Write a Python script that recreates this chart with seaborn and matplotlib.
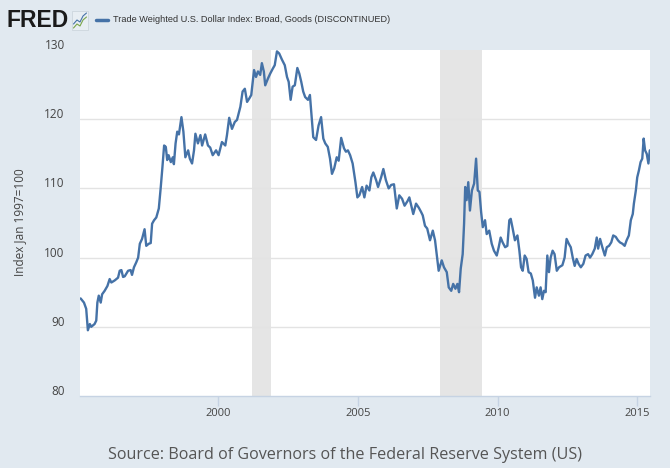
import numpy as np
import pandas as pd
import matplotlib
matplotlib.use("Agg")
import matplotlib.pyplot as plt
import seaborn as sns
from matplotlib.transforms import ScaledTranslation
from matplotlib.patches import Rectangle
from matplotlib.lines import Line2D

# ---- data (decimal years, index values) ----
dates = [
    1995.07, 1995.19, 1995.27, 1995.33, 1995.40, 1995.45, 1995.57, 1995.63, 1995.67, 1995.72,
    1995.79, 1995.84, 1995.93, 1996.03, 1996.11, 1996.17, 1996.29, 1996.41, 1996.47, 1996.53,
    1996.59, 1996.65, 1996.77, 1996.86, 1996.91, 1996.98, 1997.06, 1997.13, 1997.19, 1997.27,
    1997.36, 1997.42, 1997.51, 1997.58, 1997.63, 1997.70, 1997.78, 1997.87, 1997.94, 1998.00,
    1998.06, 1998.12, 1998.17, 1998.22, 1998.30, 1998.37, 1998.41, 1998.47, 1998.53, 1998.59,
    1998.68, 1998.75, 1998.82, 1998.92, 1998.98, 1999.06, 1999.13,
    1999.18, 1999.27, 1999.36, 1999.42, 1999.53, 1999.63, 1999.71, 1999.80, 1999.92, 2000.01,
    2000.13, 2000.25, 2000.31, 2000.39, 2000.49, 2000.59, 2000.67, 2000.79, 2000.87, 2000.95,
    2001.03, 2001.11, 2001.18, 2001.28, 2001.35, 2001.42, 2001.50, 2001.56, 2001.63, 2001.68,
    2001.78, 2001.86, 2001.95, 2002.02, 2002.10, 2002.18, 2002.28, 2002.38, 2002.46, 2002.52,
    2002.59, 2002.66, 2002.74, 2002.83, 2002.90, 2002.97, 2003.04, 2003.11, 2003.21, 2003.28,
    2003.32, 2003.40, 2003.50, 2003.59, 2003.68, 2003.76, 2003.83, 2003.92, 2004.00, 2004.07,
    2004.15, 2004.24, 2004.31, 2004.40, 2004.50, 2004.57, 2004.64, 2004.72, 2004.81, 2004.91,
    2004.98, 2005.05, 2005.15, 2005.23, 2005.31, 2005.41, 2005.48, 2005.55, 2005.65, 2005.72,
    2005.83, 2005.91, 2006.00, 2006.10, 2006.19, 2006.29, 2006.39, 2006.48, 2006.58, 2006.67,
    2006.78, 2006.84, 2006.91, 2006.98, 2007.08, 2007.18, 2007.26,
    2007.32, 2007.40, 2007.48, 2007.58, 2007.68, 2007.76, 2007.82, 2007.89, 2008.00, 2008.08,
    2008.18, 2008.25, 2008.34, 2008.41, 2008.49, 2008.56, 2008.62, 2008.68, 2008.75, 2008.80,
    2008.84, 2008.89, 2008.95, 2009.01, 2009.08, 2009.16, 2009.23, 2009.29, 2009.35, 2009.41,
    2009.47, 2009.55, 2009.61, 2009.70, 2009.79, 2009.87, 2009.97, 2010.04, 2010.11, 2010.18,
    2010.27, 2010.35, 2010.42, 2010.47, 2010.54, 2010.62, 2010.71, 2010.78, 2010.84, 2010.90,
    2010.97, 2011.04, 2011.11, 2011.19, 2011.26, 2011.34, 2011.40,
    2011.48, 2011.54, 2011.60, 2011.66, 2011.72, 2011.78, 2011.84, 2011.90, 2011.97, 2012.04,
    2012.12, 2012.20, 2012.32, 2012.40, 2012.47, 2012.55, 2012.62, 2012.69, 2012.76, 2012.83,
    2012.90, 2012.98, 2013.07, 2013.15, 2013.24, 2013.31, 2013.39, 2013.48, 2013.55, 2013.60,
    2013.67, 2013.75, 2013.84, 2013.91, 2013.99, 2014.07, 2014.14, 2014.23, 2014.31, 2014.38,
    2014.47, 2014.55, 2014.62, 2014.70, 2014.77, 2014.84, 2014.88, 2014.95, 2015.00, 2015.06,
    2015.12, 2015.18, 2015.23, 2015.28, 2015.34, 2015.40, 2015.45,
]
values = [
    94.1, 93.5, 92.6, 89.5, 90.4, 90.0, 90.4, 90.9, 93.5, 94.5,
    93.5, 94.7, 95.2, 95.9, 96.9, 96.4, 96.7, 97.1, 98.1, 98.2,
    97.2, 97.3, 98.1, 98.2, 97.5, 98.6, 99.3, 100.0, 102.0, 102.7,
    104.1, 101.7, 102.0, 102.1, 104.9, 105.4, 105.8, 107.1, 110.2, 113.1,
    116.2, 116.0, 114.1, 114.8, 113.8, 114.5, 113.5, 116.5, 118.2, 117.8,
    120.3, 118.2, 114.5, 115.5, 114.3, 113.6, 115.5,
    117.9, 116.5, 117.7, 116.2, 117.8, 116.2, 115.9, 114.8, 115.5, 114.8,
    116.7, 116.2, 117.7, 120.2, 118.6, 119.6, 119.9, 121.8, 124.0, 124.4,
    122.5, 123.0, 123.5, 127.1, 126.1, 126.9, 126.4, 128.1, 126.9, 124.9,
    125.9, 126.6, 127.3, 127.8, 129.8, 129.5, 128.6, 127.8, 126.1, 125.4,
    122.8, 124.7, 124.9, 127.4, 126.6, 125.4, 124.0, 123.2, 122.8, 123.5,
    121.5, 117.4, 117.0, 119.1, 120.3, 117.2, 116.5, 116.0, 114.3, 112.1,
    112.9, 114.5, 114.0, 117.3, 115.8, 115.3, 115.5, 114.8, 113.6, 110.9,
    108.7, 109.0, 110.2, 108.7, 110.4, 109.7, 111.6, 112.3, 111.2, 110.2,
    111.6, 112.8, 111.2, 110.0, 110.5, 110.6, 107.1, 109.0, 108.5, 107.5,
    108.2, 108.7, 107.5, 106.3, 107.8, 107.2, 106.6,
    106.1, 104.6, 104.2, 102.5, 103.9, 102.5, 100.5, 98.1, 99.6, 98.6,
    97.9, 95.7, 95.2, 96.2, 95.5, 96.2, 95.0, 98.4, 100.5, 104.9,
    110.2, 108.3, 110.9, 106.8, 109.7, 110.7, 114.3, 109.7, 109.5, 106.6,
    104.4, 105.4, 103.4, 103.9, 102.0, 101.0, 100.3, 101.5, 102.9, 102.2,
    101.5, 101.7, 105.4, 105.6, 104.2, 102.5, 103.2, 101.0, 98.6, 98.1,
    100.3, 99.8, 97.9, 97.7, 96.7, 94.2, 95.7,
    94.5, 95.7, 94.0, 95.2, 95.0, 100.3, 97.9, 100.0, 101.0, 100.5,
    98.1, 98.6, 98.9, 100.0, 102.7, 102.0, 101.5, 100.0, 98.8, 99.8,
    99.1, 98.6, 99.1, 100.3, 100.5, 100.0, 100.5, 101.3, 102.9, 101.3,
    102.7, 101.5, 100.3, 101.5, 101.7, 102.2, 103.2, 103.0, 102.5, 102.2,
    102.0, 101.7, 102.5, 103.2, 105.4, 106.3, 107.8, 109.7, 111.6, 112.6,
    113.8, 114.3, 117.2, 115.5, 115.0, 113.6, 115.5,
]
recession_start = [2001.20, 2007.92]
recession_end = [2001.87, 2009.43]
y_ticks = [80, 90, 100, 110, 120, 130]
x_ticks = [2000, 2005, 2010, 2015]
x_tick_labels = ["2000", "2005", "2010", "2015"]
series_name = "Trade Weighted U.S. Dollar Index: Broad, Goods (DISCONTINUED)"
y_label = "Index Jan 1997=100"
source_text = "Source: Board of Governors of the Federal Reserve System (US)"

BG = "#e1e9f0"
LINE = "#4572a7"
GRID = "#e3e3e3"
REC = "#e5e5e5"
AXIS = "#c6d3e3"
TXT = "#444444"

sns.set_theme(style="white")
plt.rcParams['font.family'] = ['Open Sans', 'DejaVu Sans']

W, H = 670, 468
fig = plt.figure(figsize=(W / 100, H / 100), dpi=100, facecolor=BG)
ax = fig.add_axes([80 / W, 1 - 396 / H, 570 / W, 346 / H])
ax.set_facecolor("white")

for s, e in zip(recession_start, recession_end):
    ax.axvspan(s, e, color=REC, lw=0, zorder=0)

for v in y_ticks[1:-1]:
    ax.axhline(v, color=GRID, lw=1.0, zorder=1)

df = pd.DataFrame({"date": dates, "value": values})
sns.lineplot(data=df, x="date", y="value", ax=ax, color=LINE, linewidth=1.7,
             estimator=None, sort=False, zorder=3)

ax.set_xlim(1995.048, 2015.457)
ax.set_ylim(80, 130)
ax.set_xlabel("")
ax.set_ylabel("")

for side in ["top", "right", "left"]:
    ax.spines[side].set_visible(False)
ax.spines["bottom"].set_color(AXIS)
ax.spines["bottom"].set_linewidth(1.0)

ax.set_yticks(y_ticks)
ax.set_yticklabels([str(v) for v in y_ticks], fontsize=8.5, color=TXT)
ax.tick_params(axis="y", length=0, pad=11)
for lab in ax.get_yticklabels():
    lab.set_transform(lab.get_transform() + ScaledTranslation(0, 6 / 100, fig.dpi_scale_trans))

ax.set_xticks(x_ticks)
ax.set_xticklabels(x_tick_labels, fontsize=8, color=TXT)
ax.tick_params(axis="x", length=7, width=1, color=AXIS, pad=2, direction="out", bottom=True)

fig.text(20 / W, 1 - 222 / H, y_label, rotation=90, ha="center", va="center",
         fontsize=8.5, color=TXT)

fig.text(345 / W, 1 - 455 / H, source_text, ha="center", va="center",
         fontsize=11.6, color="#555555")

# FRED logo
fig.text(7 / W, 1 - 20.5 / H, "FRED", ha="left", va="center", fontsize=16.5,
         fontweight="heavy", color="#1a1a1a",
         family=["Liberation Sans", "DejaVu Sans"])
icon = Rectangle((72 / W, 1 - 30 / H), 16 / W, 19 / H, transform=fig.transFigure,
                 facecolor="#e8eef3", edgecolor="#c8d2da", lw=0.5)
fig.add_artist(icon)
fig.add_artist(Line2D([73.5 / W, 77 / W, 80 / W, 83 / W, 86.5 / W],
                      [1 - 24 / H, 1 - 20 / H, 1 - 22 / H, 1 - 16 / H, 1 - 13 / H],
                      transform=fig.transFigure, color="#4572a7", lw=0.8))
fig.add_artist(Line2D([73.5 / W, 77 / W, 80 / W, 83 / W, 86.5 / W],
                      [1 - 28 / H, 1 - 24 / H, 1 - 26 / H, 1 - 20 / H, 1 - 17 / H],
                      transform=fig.transFigure, color="#7aa54a", lw=0.8))

# legend
fig.add_artist(Line2D([96 / W, 108 / W], [1 - 19.5 / H, 1 - 19.5 / H], transform=fig.transFigure,
                      color=LINE, lw=2.5))
fig.text(113 / W, 1 - 19.5 / H, series_name, ha="left", va="center", fontsize=6.6,
         color="#333333", family=["Liberation Sans", "DejaVu Sans"])

fig.savefig("out.png", dpi=100, facecolor=BG)
